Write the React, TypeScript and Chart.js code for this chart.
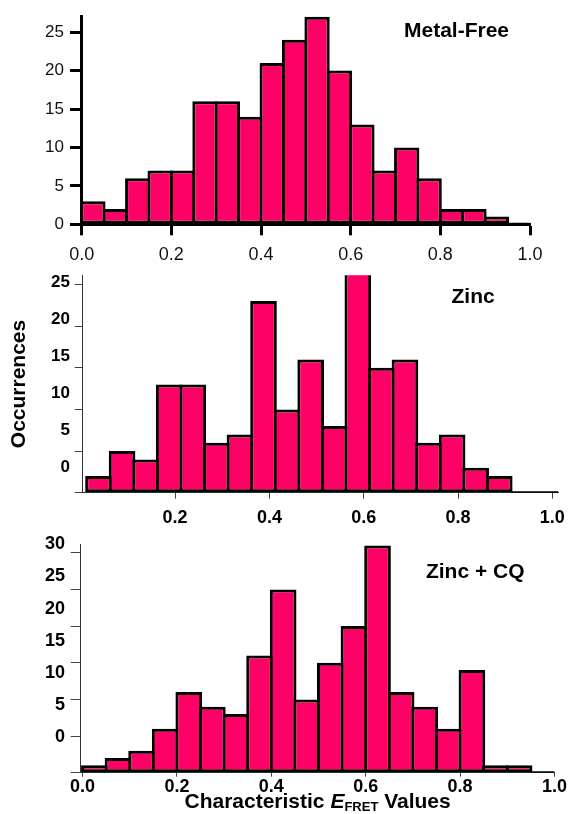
import React, { useEffect, useRef } from 'react';
import { Chart, registerables } from 'chart.js';

Chart.register(...registerables);

const FONT = '"Liberation Sans", Arial, Helvetica, sans-serif';
const BAR_FILL = '#ff0066';
const BIN_WIDTH = 0.05;

// Metal-Free histogram (counts per 0.05-wide E_FRET bin)
const counts1 = [3, 2, 6, 7, 7, 16, 16, 14, 21, 24, 27, 20, 13, 7, 10, 6, 2, 2, 1, 0];
const binStart1 = 0.0;
// Zinc
const counts2 = [2, 5, 4, 13, 13, 6, 7, 23, 10, 16, 8, 27, 15, 16, 6, 7, 3, 2, 0, 0];
const binStart2 = 0.0125;
// Zinc + CQ
const counts3 = [1, 2, 3, 6, 11, 9, 8, 16, 25, 10, 15, 20, 31, 11, 9, 6, 14, 1, 1, 0];
const binStart3 = 0.0;

const xTicks1 = [0, 0.2, 0.4, 0.6, 0.8, 1.0];
const xTicks2 = [0.2, 0.4, 0.6, 0.8, 1.0];
const xTicks3 = [0, 0.2, 0.4, 0.6, 0.8, 1.0];
const yTicks1 = [0, 5, 10, 15, 20, 25];
const yTicks2 = [0, 5, 10, 15, 20, 25];
const yTicks3 = [0, 5, 10, 15, 20, 25, 30];
const yLabels2 = [0, 5, 10, 15, 20, 25];
const yLabels3 = [0, 5, 10, 15, 20, 25, 30];

const title1 = 'Metal-Free';
const title2 = 'Zinc';
const title3 = 'Zinc + CQ';
const yTitle = 'Occurrences';

type Panel = {
  top: number;
  height: number;
  counts: number[];
  binStart: number;
  padTop: number;
  padRight: number;
  xMin: number;
  xMax: number;
  yMax: number;
  xTicks: number[];
  yTicks: number[];
  yAxisWidth: number;
  yTickLength: number;
  yTickPad: number;
  xAxisHeight: number;
  xTickLength: number;
  xTickPad: number;
  axisWidth: number;
  axisColor: string;
  tickWidth: number;
  tickColor: string;
  xFont: any;
  yFont: any;
  labelColor: string;
  labelAxis?: { min: number; max: number; width: number; labels: number[] };
  yTitle?: string;
  title: string;
  titleX: number;
  titleY: number;
  titleSize: number;
  axisTitle?: boolean;
};

const panels: Panel[] = [
  {
    top: 0, height: 270, counts: counts1, binStart: binStart1,
    padTop: 16, padRight: 39, xMin: 0, xMax: 1.0, yMax: 27.1,
    xTicks: xTicks1, yTicks: yTicks1,
    yAxisWidth: 81.7, yTickLength: 11.7, yTickPad: 6,
    xAxisHeight: 45.7, xTickLength: 11, xTickPad: 8.5,
    axisWidth: 3, axisColor: '#000', tickWidth: 3, tickColor: '#000',
    xFont: { family: FONT, size: 18, weight: 'normal' },
    yFont: { family: FONT, size: 17, weight: 'normal' },
    labelColor: '#111',
    title: title1, titleX: 0.836, titleY: 25.1, titleSize: 21,
  },
  {
    top: 270, height: 260, counts: counts2, binStart: binStart2,
    padTop: 5.3, padRight: 10.8, xMin: 0.004, xMax: 1.0125, yMax: 26.1,
    xTicks: xTicks2, yTicks: yTicks2,
    yAxisWidth: 12.7, yTickLength: 8, yTickPad: 0,
    xAxisHeight: 37.3, xTickLength: 6, xTickPad: 8.5,
    axisWidth: 1, axisColor: '#333', tickWidth: 1, tickColor: '#444',
    xFont: { family: FONT, size: 18, weight: 'bold' },
    yFont: { family: FONT, size: 17, weight: 'bold' },
    labelColor: '#000',
    labelAxis: { min: -3.48, max: 25.98, width: 70, labels: yLabels2 },
    yTitle: yTitle,
    title: title2, titleX: 0.832, titleY: 23.5, titleSize: 21,
  },
  {
    top: 530, height: 284, counts: counts3, binStart: binStart3,
    padTop: 14, padRight: 14.5, xMin: -0.004, xMax: 1.0, yMax: 31.2,
    xTicks: xTicks3, yTicks: yTicks3,
    yAxisWidth: 15.7, yTickLength: 10, yTickPad: 0,
    xAxisHeight: 41.3, xTickLength: 4, xTickPad: 0,
    axisWidth: 1, axisColor: '#333', tickWidth: 1, tickColor: '#444',
    xFont: { family: FONT, size: 18, weight: 'bold' },
    yFont: { family: FONT, size: 18, weight: 'bold' },
    labelColor: '#000',
    labelAxis: { min: -5.5, max: 30.05, width: 65, labels: yLabels3 },
    title: title3, titleX: 0.832, titleY: 27.3, titleSize: 21,
    axisTitle: true,
  },
];

function zeroRuns(counts: number[], start: number) {
  const pts: any[] = [];
  let i = 0;
  while (i < counts.length) {
    if (counts[i] === 0) {
      const lo = start + i * BIN_WIDTH;
      let j = i;
      while (j < counts.length && counts[j] === 0) j++;
      const hi = start + j * BIN_WIDTH;
      pts.push({ x: lo, y: 0 }, { x: hi, y: 0 }, { x: hi, y: null });
      i = j;
    } else i++;
  }
  return pts;
}

function makeTextPlugin(p: Panel) {
  return {
    id: 'panelText',
    afterDraw(chart: any) {
      const { ctx } = chart;
      const xs = chart.scales.x;
      const ys = chart.scales.y;
      ctx.save();
      ctx.fillStyle = '#000';
      ctx.font = `bold ${p.titleSize}px ${FONT}`;
      ctx.textAlign = 'center';
      ctx.textBaseline = 'middle';
      ctx.fillText(p.title, xs.getPixelForValue(p.titleX), ys.getPixelForValue(p.titleY));
      if (p.axisTitle) {
        const parts = [
          { text: 'Characteristic ', font: `bold 21px ${FONT}`, dy: 0 },
          { text: 'E', font: `italic bold 21px ${FONT}`, dy: 0 },
          { text: 'FRET', font: `bold 13px ${FONT}`, dy: 3 },
          { text: ' Values', font: `bold 21px ${FONT}`, dy: 0 },
        ];
        let total = 0;
        for (const part of parts) {
          ctx.font = part.font;
          total += ctx.measureText(part.text).width;
        }
        let x = (chart.chartArea.left + chart.chartArea.right) / 2 - total / 2;
        const base = chart.height - 6;
        ctx.textAlign = 'left';
        ctx.textBaseline = 'alphabetic';
        for (const part of parts) {
          ctx.font = part.font;
          ctx.fillText(part.text, x, base + part.dy);
          x += ctx.measureText(part.text).width;
        }
      }
      ctx.restore();
    },
  };
}

function buildConfig(p: Panel): any {
  const fit = (w?: number, h?: number) => (scale: any) => {
    if (w !== undefined) scale.width = w;
    if (h !== undefined) scale.height = h;
    scale.paddingLeft = 0;
    scale.paddingRight = 0;
    scale.paddingTop = 0;
    scale.paddingBottom = 0;
  };
  const setTicks = (arr: number[]) => (scale: any) => {
    scale.ticks = arr.map((v) => ({ value: v }));
  };

  const scales: any = {
    x: {
      type: 'linear',
      position: 'bottom',
      min: p.xMin,
      max: p.xMax,
      offset: false,
      afterBuildTicks: setTicks(p.xTicks),
      afterFit: fit(undefined, p.xAxisHeight),
      grid: {
        display: true, offset: false, drawOnChartArea: false, drawTicks: true,
        tickLength: p.xTickLength, tickWidth: p.tickWidth, tickColor: p.tickColor,
      },
      border: { display: true, color: p.axisColor, width: p.axisWidth },
      ticks: {
        autoSkip: false, maxRotation: 0, minRotation: 0, padding: p.xTickPad,
        color: p.labelColor, font: p.xFont,
        callback: (v: any) => Number(v).toFixed(1),
      },
    },
    y: {
      type: 'linear',
      position: 'left',
      weight: 0,
      min: 0,
      max: p.yMax,
      afterBuildTicks: setTicks(p.yTicks),
      afterFit: fit(p.yAxisWidth, undefined),
      grid: {
        display: true, drawOnChartArea: false, drawTicks: true,
        tickLength: p.yTickLength, tickWidth: p.tickWidth, tickColor: p.tickColor,
      },
      border: { display: true, color: p.axisColor, width: p.axisWidth },
      ticks: {
        display: !p.labelAxis, padding: p.yTickPad, color: p.labelColor, font: p.yFont,
        callback: (v: any) => String(v),
      },
    },
  };
  if (p.labelAxis) {
    const la = p.labelAxis;
    scales.yl = {
      type: 'linear',
      axis: 'y',
      position: 'left',
      weight: 1,
      min: la.min,
      max: la.max,
      afterBuildTicks: setTicks(la.labels),
      afterFit: fit(la.width, undefined),
      grid: { display: false, drawTicks: false, drawOnChartArea: false },
      border: { display: false },
      ticks: {
        display: true, padding: 0, color: p.labelColor, font: p.yFont,
        callback: (v: any) => String(v),
      },
      title: {
        display: !!p.yTitle,
        text: p.yTitle || '',
        color: '#000',
        font: { family: FONT, size: 21, weight: 'bold' },
        padding: { top: 7, bottom: 0 },
      },
    };
  }

  return {
    type: 'bar',
    data: {
      datasets: [
        {
          type: 'bar',
          xAxisID: 'x',
          yAxisID: 'y',
          data: p.counts.map((c, i) => ({ x: p.binStart + (i + 0.5) * BIN_WIDTH, y: c })),
          backgroundColor: BAR_FILL,
          borderColor: '#000',
          borderWidth: 3,
          borderSkipped: false,
          barPercentage: 1.13,
          categoryPercentage: 1,
          clip: { left: 10, right: 10, top: 0, bottom: 10 },
        },
        {
          type: 'line',
          xAxisID: 'x',
          yAxisID: 'y',
          data: zeroRuns(p.counts, p.binStart),
          borderColor: '#000',
          borderWidth: 3,
          pointRadius: 0,
          fill: false,
          spanGaps: false,
          tension: 0,
        },
      ],
    },
    options: {
      responsive: false,
      animation: false,
      devicePixelRatio: 1,
      events: [],
      layout: { padding: { top: p.padTop, right: p.padRight, bottom: 0, left: 0 } },
      plugins: { legend: { display: false }, tooltip: { enabled: false }, title: { display: false } },
      scales,
    },
    plugins: [makeTextPlugin(p)],
  };
}

function PanelChart({ p }: { p: Panel }) {
  const ref = useRef<HTMLCanvasElement | null>(null);
  useEffect(() => {
    if (!ref.current) return;
    const chart = new Chart(ref.current, buildConfig(p));
    return () => chart.destroy();
  }, [p]);
  return (
    <canvas
      ref={ref}
      width={569}
      height={p.height}
      style={{ position: 'absolute', left: 0, top: p.top, width: 569, height: p.height, display: 'block' }}
    />
  );
}

export default function App() {
  return (
    <div style={{ position: 'absolute', left: 0, top: 0, width: 569, height: 814, background: '#fff', overflow: 'hidden' }}>
      {panels.map((p, i) => (
        <PanelChart key={i} p={p} />
      ))}
    </div>
  );
}
